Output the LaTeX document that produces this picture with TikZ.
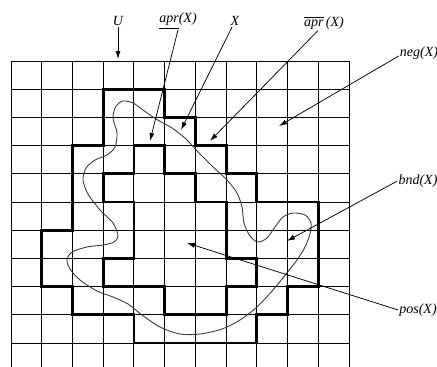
\documentclass[tikz,border=0pt]{standalone}
\usepackage{fontspec}
\setmainfont{Liberation Serif}
\usepackage{amsmath}
\usepackage{tikz}
\usetikzlibrary{arrows.meta}
\definecolor{curvegray}{RGB}{60,60,60}

\begin{document}
\begin{tikzpicture}[x=1pt,y=-1pt,
        gridline/.style={line width=0.9pt},
        approx/.style={line width=2.8pt,line join=miter},
        pointer/.style={line width=0.75pt,-{Latex[length=8pt,width=5pt]}},
        lbl/.style={inner sep=1pt,font=\fontsize{14}{16}\selectfont\itshape}]
        \useasboundingbox (0,0) rectangle (437,367);
        \begin{scope}[shift={(11pt,-61pt)},x=30.73pt,y=-28.2pt]
            \foreach \i in {0,...,11}
                \draw[gridline] (\i,0) -- (\i,10.9);
            \foreach \j in {0,...,10}
                \draw[gridline] (0,\j) -- (11,\j);
            \draw[approx] (3,1) -- (5,1) -- (5,2) -- (6,2) -- (6,3) -- (7,3) -- (7,4) -- (8,4) -- (8,5) -- (10,5) -- (10,8) -- (9,8) -- (9,9) -- (8,9) -- (8,10) -- (4,10) -- (4,9) -- (2,9) -- (2,8) -- (1,8) -- (1,6) -- (2,6) -- (2,3) -- (3,3) -- cycle;
            \draw[approx] (4,3) -- (5,3) -- (5,4) -- (6,4) -- (6,5) -- (7,5) -- (7,7) -- (8,7) -- (8,8) -- (7,8) -- (7,9) -- (5,9) -- (5,8) -- (3,8) -- (3,7) -- (4,7) -- (4,5) -- (3,5) -- (3,4) -- (4,4) -- cycle;
        \end{scope}
        \draw[curvegray,line width=0.9pt] plot[smooth cycle,tension=0.5] coordinates {
            (113,118) (116,106) (123,101) (133,103) (143,110) (156,119) (172,128) (186,139)
            (198,152) (212,166) (227,180) (237,193) (242,207) (244,223) (250,236) (258,242)
            (267,238) (275,227) (283,217) (293,213) (305,215) (311,223) (310,234) (305,247)
            (297,260) (286,274) (273,290) (257,307) (240,320) (222,329) (200,334) (180,334)
            (160,327) (142,315) (128,304) (113,297) (97,291) (80,280) (70,269) (67,260)
            (72,252) (87,247) (103,245) (114,242) (118,236) (113,223) (100,210) (88,194)
            (83,180) (86,168) (95,160) (107,155) (115,147) (117,133)};
        \node[lbl] (lblU) at (118,21) {U};
        \node[lbl] (lblLower) at (178,21) {\underline{apr}(X)};
        \node[lbl] (lblX) at (235,21) {X};
        \node[lbl] (lblUpper) at (324,23) {$\overline{\mbox{\itshape apr}}$\,(X)};
        \node[lbl] (lblNeg) at (419,53) {neg(X)};
        \node[lbl] (lblBnd) at (418,181) {bnd(X)};
        \node[lbl] (lblPos) at (418,310) {pos(X)};
        \coordinate (tipU) at (118,59);
        \coordinate (tipLower) at (150,141);
        \coordinate (tipX) at (181,130);
        \coordinate (tipUpper) at (210,141);
        \coordinate (tipNeg) at (279,126);
        \coordinate (tipBnd) at (287,241);
        \coordinate (tipPos) at (187,243);
        \draw[pointer] (lblU) -- (tipU);
        \draw[pointer] (lblLower.south) -- (tipLower);
        \draw[pointer] (lblX) -- (tipX);
        \draw[pointer] ([xshift=-6pt]lblUpper.south) -- (tipUpper);
        \draw[pointer] ([yshift=-3pt]lblNeg.west) -- (tipNeg);
        \draw[pointer] (lblBnd.west) -- (tipBnd);
        \draw[pointer] (lblPos.west) -- (tipPos);
    \end{tikzpicture}
\end{document}
